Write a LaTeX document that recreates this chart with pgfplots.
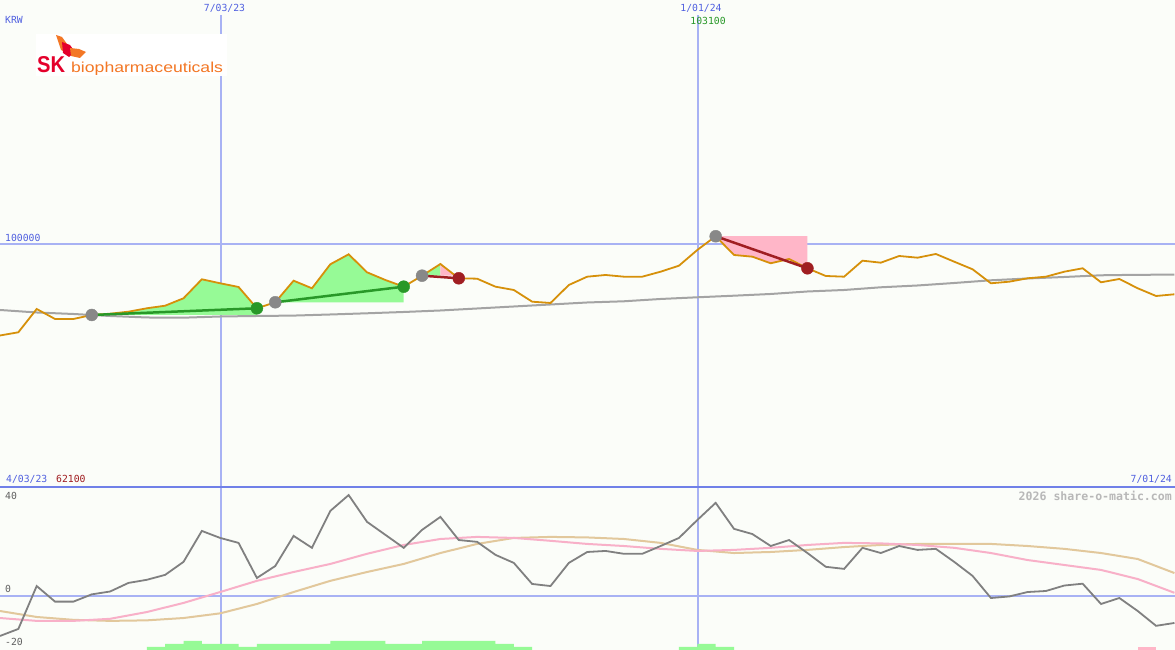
\documentclass[border=0pt]{standalone}
\usepackage{pgfplots}
\pgfplotsset{compat=1.18}
\usepackage{pgfplotstable}
\usepackage{fontspec}
\setmonofont{DejaVu Sans Mono}
\newfontfamily\logofont{Liberation Sans}

\definecolor{bg}{RGB}{251,253,249}
\definecolor{gridblue}{RGB}{168,178,244}
\definecolor{sepblue}{RGB}{112,128,232}
\definecolor{lblblue}{RGB}{80,96,224}
\definecolor{lblred}{RGB}{160,28,32}
\definecolor{lblgray}{RGB}{96,96,96}
\definecolor{wmgray}{RGB}{184,184,184}
\definecolor{price}{RGB}{214,144,10}
\definecolor{ma}{RGB}{164,164,164}
\definecolor{gainfill}{RGB}{150,250,150}
\definecolor{lossfill}{RGB}{255,182,200}
\definecolor{buygreen}{RGB}{40,152,40}
\definecolor{sellred}{RGB}{160,30,34}
\definecolor{entrygray}{RGB}{136,136,136}
\definecolor{oscgray}{RGB}{128,128,128}
\definecolor{oscpink}{RGB}{248,176,200}
\definecolor{osctan}{RGB}{226,200,156}
\definecolor{skred}{RGB}{228,0,43}
\definecolor{skorange}{RGB}{243,119,37}

% weekly closes, k = 0 is 4/10/23, k = 12 is 7/03/23, k = 38 is 1/01/24
\pgfplotstableread{
k p
-1 62100
0 63400
1 64680
2 74000
3 70000
4 70000
5 71600
6 72120
7 72920
8 74280
9 75320
10 78280
11 85880
12 84280
13 82800
14 74280
15 76680
16 85320
17 82280
18 91880
19 95880
20 88680
21 85600
22 82920
23 87320
24 92000
25 86280
26 86120
27 82920
28 81600
29 76920
30 76400
31 83600
32 86920
33 87600
34 86920
35 86920
36 88920
37 91320
38 97600
39 103100
40 95600
41 94920
42 92280
43 94000
44 90280
45 87200
46 86920
47 93320
48 92520
49 95200
50 94520
51 96000
52 92920
53 89880
54 84280
55 84920
56 86280
57 86920
58 88920
59 90280
60 84680
61 86000
62 82280
63 79200
64 79880
}\pricetab

\pgfplotstableread{
k m
0 73600
2 72600
4 72000
6 71200
8 70600
10 70520
12 71000
14 71200
16 71360
18 71800
20 72280
22 72800
24 73400
26 74200
28 75000
30 75800
32 76600
34 77080
36 78000
38 78680
40 79320
42 80000
44 81000
46 81600
48 82680
50 83400
52 84400
54 85480
56 86200
58 86800
60 87480
62 87680
64 87720
}\matab

\pgfplotstableread{
k g
0 -15.4
1 -12.7
2 3.8
3 -2.2
4 -2.2
5 0.6
6 1.7
7 5.0
8 6.2
9 8.1
10 13.1
11 25.0
12 22.3
13 20.4
14 6.9
15 11.5
16 23.1
17 18.5
18 32.7
19 38.8
20 28.5
21 23.5
22 18.5
23 25.4
24 30.4
25 21.5
26 20.8
27 15.8
28 12.7
29 4.6
30 3.8
31 12.7
32 16.9
33 17.3
34 16.2
35 16.2
36 19.2
37 22.3
38 29.2
39 35.8
40 25.8
41 23.8
42 19.2
43 21.5
44 16.5
45 11.2
46 10.4
47 18.5
48 16.5
49 19.2
50 17.7
51 18.1
52 13.1
53 7.7
54 -0.8
55 -0.2
56 1.5
57 1.9
58 4.0
59 4.7
60 -3.1
61 -0.8
62 -5.8
63 -11.5
64 -10.4
}\osctab

\pgfplotstableread{
k p t
0 -8.5 -5.8
2 -9.6 -8.1
4 -9.6 -9.2
6 -8.8 -9.6
8 -6.2 -9.4
10 -2.7 -8.5
12 1.5 -6.7
14 5.8 -3.1
16 9.2 1.5
18 12.3 5.8
20 16.2 9.2
22 19.6 12.3
24 21.9 16.5
26 22.7 20.0
28 22.3 22.3
30 21.2 22.7
32 20.0 22.5
34 19.2 21.9
36 18.1 20.4
38 17.3 17.7
40 17.7 16.5
42 18.5 16.9
44 19.6 17.7
46 20.4 18.8
48 20.2 19.6
50 19.6 20.0
52 18.5 20.0
54 16.5 20.0
56 13.8 19.2
58 11.9 18.1
60 10.0 16.5
62 6.5 14.2
64 1.2 8.8
}\smoothtab

% every axis sits on the picture's lower left corner;
% the price axis spans the whole height, its data only uses the upper 487bp
\pgfplotsset{panel/.style={scale only axis, width=1175bp, hide axis,
  xmin=0, xmax=64.03, clip=true, at={(0,0)}, anchor=south west}}
\newcommand\lbl{\ttfamily\fontsize{9.8}{10}\selectfont}

\begin{document}
\begin{tikzpicture}[x=1bp,y=1bp]
\fill[bg] (0,0) rectangle (1175,650);
% grid lines
\draw[gridblue, line width=1.6bp] (221,0) -- (221,635);
\draw[gridblue, line width=1.6bp] (698,0) -- (698,635);
\draw[gridblue, line width=2bp] (0,406) -- (1175,406);
\draw[gridblue, line width=2bp] (0,54) -- (1175,54);
\draw[sepblue, line width=2.2bp] (0,163) -- (1175,163);

% signal histogram
\begin{axis}[panel, height=30bp, ymin=0, ymax=10]
\addplot[ybar, bar width=18.35bp, fill=gainfill, draw=none] coordinates {
  (8.5,1) (9.5,2) (10.5,3) (11.5,2) (12.5,2) (13.5,1) (14.5,2) (15.5,2)
  (16.5,2) (17.5,2) (18.5,3) (19.5,3) (20.5,3) (21.5,2) (22.5,2) (23.5,3)
  (24.5,3) (25.5,3) (26.5,3) (27.5,2) (28.5,1) (37.5,1) (38.5,2) (39.5,1)};
\addplot[ybar, bar width=18.35bp, fill=lossfill, draw=none] coordinates {(62.5,1)};
\end{axis}

% oscillator panel
\begin{axis}[panel, height=163bp, ymin=-20.8, ymax=41.9]
\addplot[osctan, line width=2bp] table[x=k, y=t] {\smoothtab};
\addplot[oscpink, line width=2bp] table[x=k, y=p] {\smoothtab};
\addplot[oscgray, line width=1.8bp] table[x=k, y=g] {\osctab};
\end{axis}

% price panel
\begin{axis}[panel, height=650bp, ymin=-62400, ymax=197600]
\addplot[fill=gainfill, draw=none] coordinates {(5,71600) (6,72120) (7,72920)
  (8,74280) (9,75320) (10,78280) (11,85880) (12,84280) (13,82800) (14,74280)
  (14,71600)} -- cycle;
\addplot[fill=gainfill, draw=none] coordinates {(15,76680) (16,85320) (17,82280)
  (18,91880) (19,95880) (20,88680) (21,85600) (22,82920) (22,76680)} -- cycle;
\addplot[fill=gainfill, draw=none] coordinates {(23,87320) (24,92000) (24,87320)} -- cycle;
\addplot[fill=lossfill, draw=none] coordinates {(24,92000) (24.82,87320) (24,87320)} -- cycle;
\addplot[fill=lossfill, draw=none] coordinates {(39,103100) (44,103100) (44,90280)
  (43,94000) (42,92280) (41,94920) (40,95600)} -- cycle;
\addplot[ma, line width=2bp] table[x=k, y=m] {\matab};
\addplot[price, line width=1.8bp] table[x=k, y=p] {\pricetab};
\addplot[buygreen, line width=2.5bp] coordinates {(5,71600) (14,74280)};
\addplot[buygreen, line width=2.5bp] coordinates {(15,76680) (22,82920)};
\addplot[sellred, line width=2.5bp] coordinates {(23,87320) (25,86280)};
\addplot[sellred, line width=2.5bp] coordinates {(39,103100) (44,90280)};
\addplot[only marks, mark=*, mark size=6bp, entrygray] coordinates {(5,71600)
  (15,76680) (23,87320) (39,103100)};
\addplot[only marks, mark=*, mark size=6bp, buygreen] coordinates {(14,74280) (22,82920)};
\addplot[only marks, mark=*, mark size=6bp, sellred] coordinates {(25,86280) (44,90280)};
\end{axis}

% labels
\begin{scope}[every node/.style={inner sep=0pt, font=\lbl}]
\node[text=lblblue] at (224.5,642) {7/03/23};
\node[text=lblblue] at (701,642) {1/01/24};
\node[text=buygreen] at (708,629.5) {103100};
\node[text=lblblue, anchor=west] at (5,630) {KRW};
\node[text=lblblue, anchor=west] at (5,412) {100000};
\node[text=lblblue, anchor=west] at (6,171) {4/03/23};
\node[text=lblred, anchor=west] at (56,171) {62100};
\node[text=lblblue, anchor=east] at (1172,171) {7/01/24};
\node[text=lblgray, anchor=west] at (5,154) {40};
\node[text=lblgray, anchor=west] at (5,61) {0};
\node[text=lblgray, anchor=west] at (5,8) {-20};
\node[text=wmgray, anchor=east, font=\ttfamily\bfseries\fontsize{11.6}{12}\selectfont]
  at (1172,154) {2026 share-o-matic.com};
\end{scope}

% logo
\fill[white] (36,574) rectangle (227,616);
\fill[skorange] (56,615) -- (62,613) -- (67,606) -- (67,597) -- (61,600) -- cycle;
\fill[skred] (62,608) -- (70,605) -- (75,598) -- (69,593) -- (63,597) -- cycle;
\fill[skorange] (70,602) -- (79,601) -- (86,598) -- (80,592) -- (71,594) -- cycle;
\node[anchor=base west, inner sep=0pt, text=skred] at (37,577)
  {\scalebox{0.88}[1]{\logofont\bfseries\fontsize{23}{23}\selectfont SK}};
\node[anchor=base west, inner sep=0pt, text=skorange] at (71,577)
  {\scalebox{1.22}[1]{\logofont\fontsize{14.5}{15}\selectfont biopharmaceuticals}};

\pgfresetboundingbox
\useasboundingbox (0,0) rectangle (1175,650);
\end{tikzpicture}
\end{document}
